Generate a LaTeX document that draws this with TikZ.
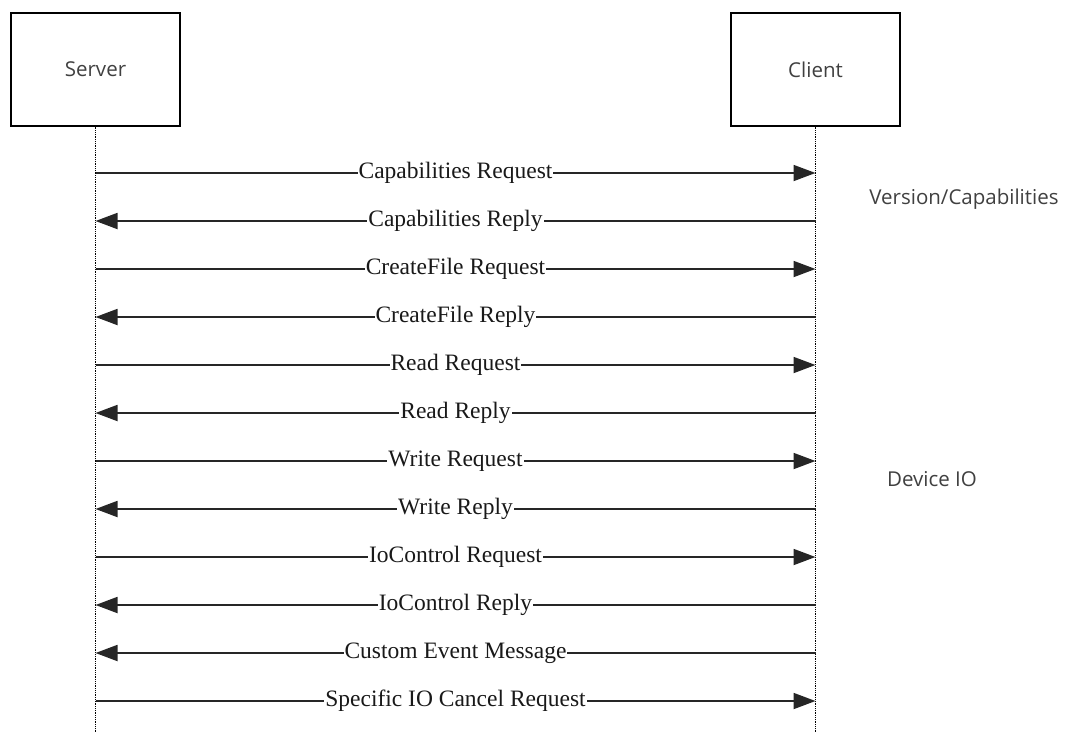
\documentclass[tikz,border=0pt]{standalone}
\usepackage{fontspec}
\setmainfont{Liberation Serif}
\newfontfamily\boxfont{Open Sans}
\usetikzlibrary{arrows.meta}
\begin{document}
\begin{tikzpicture}[x=1pt,y=-1pt,
  actor/.style={draw,line width=1.3pt,minimum width=169pt,minimum height=113pt,font=\boxfont\fontsize{20.5}{22}\selectfont,text=black!75},
  life/.style={densely dotted,line width=0.8pt},
  msg/.style={line width=1.8pt,draw=black!85,-{Triangle[length=22pt,width=16pt]}},
  lbl/.style={fill=white,inner sep=1pt,font=\fontsize{23.5}{25}\selectfont,text=black!90},
  note/.style={font=\boxfont\fontsize{20.5}{22}\selectfont,text=black!75}]
\useasboundingbox (0,0) rectangle (1065,732);
\node[actor] (srv) at (95.5,69.5) {Server};
\node[actor] (cli) at (815.5,69.5) {Client};
\coordinate (sb) at (95.5,732);
\coordinate (cb) at (815.5,732);
\draw[life] (srv.south) -- (sb);
\draw[life] (cli.south) -- (cb);
\foreach \i in {0,...,11}{
  \coordinate (s\i) at (95.5,{173+48*\i});
  \coordinate (c\i) at (815.5,{173+48*\i});
}
\draw[msg] (s0) -- node[lbl] {Capabilities Request} (c0);
\draw[msg] (c1) -- node[lbl] {Capabilities Reply} (s1);
\draw[msg] (s2) -- node[lbl] {CreateFile Request} (c2);
\draw[msg] (c3) -- node[lbl] {CreateFile Reply} (s3);
\draw[msg] (s4) -- node[lbl] {Read Request} (c4);
\draw[msg] (c5) -- node[lbl] {Read Reply} (s5);
\draw[msg] (s6) -- node[lbl] {Write Request} (c6);
\draw[msg] (c7) -- node[lbl] {Write Reply} (s7);
\draw[msg] (s8) -- node[lbl] {IoControl Request} (c8);
\draw[msg] (c9) -- node[lbl] {IoControl Reply} (s9);
\draw[msg] (c10) -- node[lbl] {Custom Event Message} (s10);
\draw[msg] (s11) -- node[lbl] {Specific IO Cancel Request} (c11);
\node[note] (vc) at (964,199) {Version/Capabilities};
\node[note] (dio) at (932,479) {Device IO};
\end{tikzpicture}
\end{document}
